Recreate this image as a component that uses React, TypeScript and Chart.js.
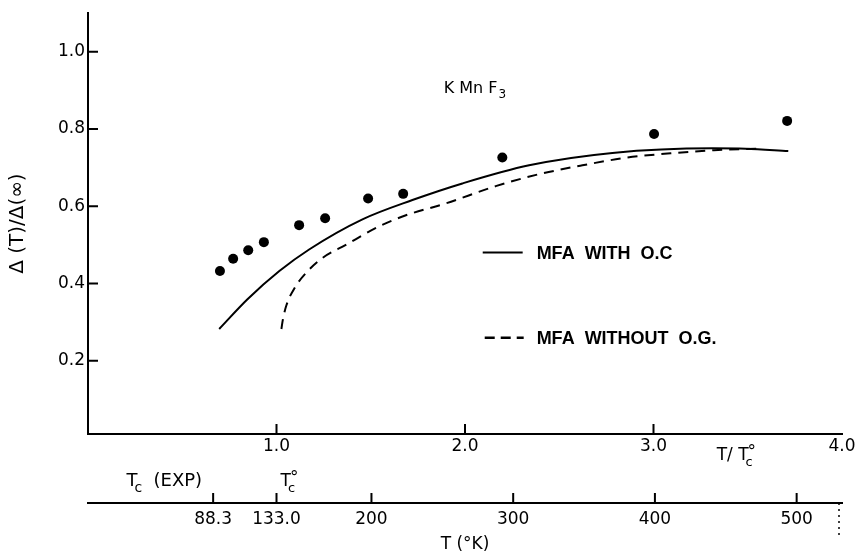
import { useEffect, useRef } from 'react';
import { Chart, registerables } from 'chart.js';

Chart.register(...registerables);

// ---- data ----
const RATIO_TICKS = [1, 2, 3, 4];
const RATIO_TICK_LABELS = ['1.0', '2.0', '3.0', '4.0'];
const Y_TICKS = [0.2, 0.4, 0.6, 0.8, 1.0];
const Y_TICK_LABELS = ['0.2', '0.4', '0.6', '0.8', '1.0'];
const T_TICKS = [88.3, 133, 200, 300, 400, 500];
const T_TICK_LABELS = ['88.3', '133.0', '200', '300', '400', '500'];
const TC0 = 133;
const RATIO_MAX = 4;

const EXP_X = [0.7, 0.77, 0.85, 0.933, 1.12, 1.258, 1.486, 1.672, 2.198, 3.003, 3.709];
const EXP_Y = [0.432, 0.464, 0.486, 0.507, 0.551, 0.569, 0.62, 0.632, 0.726, 0.787, 0.821];

const WITH_OC_X = [0.696, 0.846, 1.015, 1.173, 1.456, 1.721, 1.986, 2.34, 2.782, 3.312, 3.489, 3.715];
const WITH_OC_Y = [0.282, 0.359, 0.432, 0.488, 0.566, 0.616, 0.659, 0.706, 0.738, 0.75, 0.749, 0.743];

const WITHOUT_OG_X = [1.026, 1.034, 1.053, 1.097, 1.162, 1.238, 1.368, 1.545, 1.695, 1.89, 2.163, 2.393, 2.623, 2.861, 3.091, 3.321, 3.55];
const WITHOUT_OG_Y = [0.282, 0.307, 0.344, 0.389, 0.43, 0.464, 0.5, 0.548, 0.578, 0.606, 0.652, 0.683, 0.706, 0.726, 0.737, 0.745, 0.749];

const FONT = '"DejaVu Sans", sans-serif';
const BOLD = '"Liberation Sans", Arial, sans-serif';

function scripted(ctx: CanvasRenderingContext2D, x: number, y: number, base: string, size: number, sup?: string, sub?: string) {
  ctx.font = `${size}px ${FONT}`;
  ctx.textAlign = 'left';
  ctx.textBaseline = 'alphabetic';
  ctx.fillText(base, x, y);
  const w = ctx.measureText(base).width;
  if (sup) {
    ctx.font = `${size}px ${FONT}`;
    ctx.fillText(sup, x + w - 1, y - size * 0.18);
  }
  if (sub) {
    ctx.font = `${Math.round(size * 0.78)}px ${FONT}`;
    ctx.fillText(sub, x + w - 3, y + size * 0.34);
  }
  return w;
}

const decor = {
  id: 'decor',
  afterDraw(chart: any) {
    const ctx: CanvasRenderingContext2D = chart.ctx;
    const xs = chart.scales.x;
    const x2 = chart.scales.x2;
    const ys = chart.scales.y;
    const area = chart.chartArea;
    ctx.save();
    ctx.strokeStyle = '#000';
    ctx.fillStyle = '#000';
    ctx.lineWidth = 2;
    // inward tick marks
    ctx.beginPath();
    Y_TICKS.forEach((v) => {
      const p = ys.getPixelForValue(v);
      ctx.moveTo(area.left, p);
      ctx.lineTo(area.left + 10, p);
    });
    RATIO_TICKS.filter((v) => v < RATIO_MAX).forEach((v) => {
      const p = xs.getPixelForValue(v);
      ctx.moveTo(p, xs.top);
      ctx.lineTo(p, xs.top - 10);
    });
    T_TICKS.forEach((v) => {
      const p = x2.getPixelForValue(v);
      ctx.moveTo(p, x2.top);
      ctx.lineTo(p, x2.top - 10);
    });
    ctx.stroke();
    // dotted end marker of the temperature axis
    ctx.save();
    ctx.lineWidth = 1.5;
    ctx.setLineDash([2, 4]);
    ctx.beginPath();
    ctx.moveTo(x2.right - 3, x2.top);
    ctx.lineTo(x2.right - 3, x2.top + 36);
    ctx.stroke();
    ctx.restore();

    // compound label
    ctx.font = `16px ${FONT}`;
    const kx = xs.getPixelForValue(1.887);
    const ky = ys.getPixelForValue(0.902) + 3;
    ctx.textAlign = 'left';
    ctx.textBaseline = 'alphabetic';
    ctx.fillText('K Mn F', kx, ky);
    const kw = ctx.measureText('K Mn F').width;
    ctx.font = `12px ${FONT}`;
    ctx.fillText('3', kx + kw + 1, ky + 5);

    // legend
    const lx0 = xs.getPixelForValue(2.094);
    const lx1 = xs.getPixelForValue(2.306);
    const tx = xs.getPixelForValue(2.38);
    const ly1 = ys.getPixelForValue(0.48);
    const ly2 = ys.getPixelForValue(0.259);
    ctx.beginPath();
    ctx.moveTo(lx0, ly1);
    ctx.lineTo(lx1, ly1);
    ctx.stroke();
    ctx.save();
    ctx.setLineDash([10, 6]);
    ctx.lineWidth = 2.5;
    ctx.beginPath();
    ctx.moveTo(lx0 + 2, ly2);
    ctx.lineTo(lx1 + 1, ly2);
    ctx.stroke();
    ctx.restore();
    ctx.font = `bold 18px ${BOLD}`;
    ctx.textBaseline = 'middle';
    ctx.fillText('MFA  WITH  O.C', tx, ly1 + 1);
    ctx.fillText('MFA  WITHOUT  O.G.', tx, ly2 + 1);

    // axis captions
    scripted(ctx, xs.getPixelForValue(3.335), xs.top + 26, 'T/ T', 17, '°', 'c');
    const p133 = x2.getPixelForValue(133);
    scripted(ctx, p133 + 4, x2.top - 17, 'T', 17, '°', 'c');
    const p88 = x2.getPixelForValue(88.3);
    ctx.font = `18px ${FONT}`;
    const expW = ctx.measureText('(EXP)').width;
    ctx.textAlign = 'left';
    ctx.textBaseline = 'alphabetic';
    ctx.fillText('(EXP)', p88 - 11 - expW, x2.top - 17);
    scripted(ctx, p88 - 11 - expW - 27, x2.top - 17, 'T', 18, undefined, 'c');
    ctx.restore();
  },
};

export default function App() {
  const ref = useRef<HTMLCanvasElement>(null);
  useEffect(() => {
    const canvas = ref.current;
    if (!canvas) return;
    const toXY = (xv: number[], yv: number[]) => xv.map((x, i) => ({ x, y: yv[i] }));
    const tickFont = { family: FONT, size: 17 };
    const noSidePadding = (s: any) => {
      s.paddingLeft = 0;
      s.paddingRight = 0;
    };
    const chart = new Chart(canvas, {
      type: 'scatter',
      data: {
        datasets: [
          {
            label: 'MFA WITH O.C',
            data: toXY(WITH_OC_X, WITH_OC_Y),
            showLine: true,
            borderColor: '#000',
            borderWidth: 2,
            pointRadius: 0,
            cubicInterpolationMode: 'monotone',
          },
          {
            label: 'MFA WITHOUT O.G.',
            data: toXY(WITHOUT_OG_X, WITHOUT_OG_Y),
            showLine: true,
            borderColor: '#000',
            borderWidth: 2,
            borderDash: [10, 7],
            pointRadius: 0,
            cubicInterpolationMode: 'monotone',
          },
          {
            label: 'EXP',
            data: toXY(EXP_X, EXP_Y),
            showLine: false,
            pointRadius: 5,
            pointBackgroundColor: '#000',
            pointBorderColor: '#000',
            pointBorderWidth: 0,
          },
        ],
      } as any,
      options: {
        animation: false,
        responsive: false,
        layout: { padding: { top: 10, right: 13, left: 0, bottom: 0 } },
        plugins: { legend: { display: false }, tooltip: { enabled: false } },
        scales: {
          x: {
            type: 'linear',
            position: 'bottom',
            min: 0,
            max: RATIO_MAX,
            afterBuildTicks: (s: any) => {
              s.ticks = RATIO_TICKS.map((v) => ({ value: v }));
            },
            afterFit: (s: any) => {
              s.height = 69;
              noSidePadding(s);
            },
            ticks: {
              callback: (_v: any, i: number) => RATIO_TICK_LABELS[i],
              font: tickFont,
              color: '#000',
              padding: 2,
              maxRotation: 0,
              autoSkip: false,
            },
            grid: { display: false, drawTicks: false, tickLength: 0 },
            border: { display: true, color: '#000', width: 2 },
          },
          x2: {
            type: 'linear',
            position: 'bottom',
            min: 0,
            max: RATIO_MAX * TC0,
            afterBuildTicks: (s: any) => {
              s.ticks = T_TICKS.map((v) => ({ value: v }));
            },
            afterFit: (s: any) => {
              s.height = 52;
              noSidePadding(s);
            },
            ticks: {
              callback: (_v: any, i: number) => T_TICK_LABELS[i],
              font: tickFont,
              color: '#000',
              padding: 6,
              maxRotation: 0,
              autoSkip: false,
            },
            title: {
              display: true,
              text: 'T (°K)',
              font: { family: FONT, size: 17 },
              color: '#000',
              padding: { top: 0, bottom: 0 },
            },
            grid: { display: false, drawTicks: false, tickLength: 0 },
            border: { display: true, color: '#000', width: 2 },
          },
          y: {
            type: 'linear',
            position: 'left',
            min: 0.01,
            max: 1.1,
            afterBuildTicks: (s: any) => {
              s.ticks = Y_TICKS.map((v) => ({ value: v }));
            },
            afterFit: (s: any) => {
              s.width = 88;
            },
            ticks: {
              callback: (_v: any, i: number) => Y_TICK_LABELS[i],
              font: tickFont,
              color: '#000',
              padding: 3,
            },
            title: {
              display: true,
              text: 'Δ (T)/Δ(∞)',
              font: { family: FONT, size: 20 },
              color: '#000',
              padding: { top: 6, bottom: 0 },
            },
            grid: { display: false, drawTicks: false, tickLength: 0 },
            border: { display: true, color: '#000', width: 2 },
          },
        },
      } as any,
      plugins: [decor],
    });
    return () => chart.destroy();
  }, []);
  return (
    <div style={{ position: 'fixed', left: 0, top: 0, width: 855, height: 555, background: '#fff' }}>
      <canvas ref={ref} width={855} height={555} style={{ display: 'block' }} />
    </div>
  );
}
